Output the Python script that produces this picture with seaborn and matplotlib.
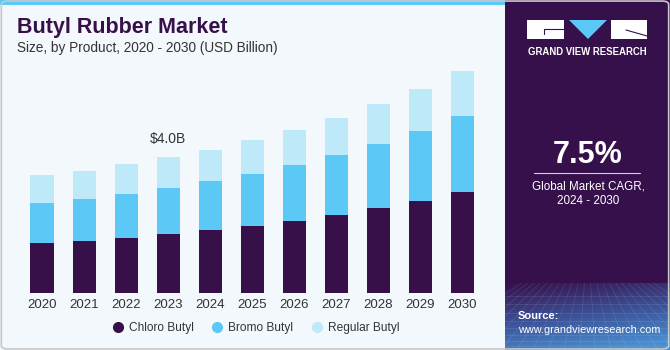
import numpy as np
import pandas as pd
import matplotlib.pyplot as plt
import seaborn as sns
from matplotlib.patches import Rectangle, Polygon, FancyBboxPatch
from matplotlib.lines import Line2D
from matplotlib.colors import LinearSegmentedColormap

# values (USD billion)
years = [str(y) for y in range(2020, 2031)]
chloro = [1.47, 1.53, 1.62, 1.74, 1.85, 1.98, 2.13, 2.31, 2.50, 2.72, 2.99]
bromo = [1.19, 1.24, 1.31, 1.37, 1.45, 1.53, 1.64, 1.76, 1.90, 2.06, 2.23]
regular = [0.81, 0.83, 0.86, 0.90, 0.93, 0.99, 1.03, 1.09, 1.16, 1.24, 1.33]
products = ['Chloro Butyl', 'Bromo Butyl', 'Regular Butyl']
colors = ['#37104a', '#5bc8f5', '#bde9f9']
label_year = '2023'
label_text = '$4.0B'
cagr = '7.5%'

df = pd.DataFrame({'year': years, 'Chloro Butyl': chloro,
                   'Bromo Butyl': bromo, 'Regular Butyl': regular})
df['s1'] = df['Chloro Butyl']
df['s2'] = df['s1'] + df['Bromo Butyl']
df['s3'] = df['s2'] + df['Regular Butyl']

sns.set_theme(style='white')
plt.rcParams['font.family'] = ['Liberation Sans', 'DejaVu Sans']

W, H = 670, 350
fig = plt.figure(figsize=(6.7, 3.5), dpi=100)
fig.patch.set_facecolor('white')

def fx(px):
    return px / W

def fy(py):
    return 1 - py / H

# panels (behind the axes)
fig.patches.append(Rectangle((0, 0), fx(505), 1, transform=fig.transFigure,
                             facecolor='#f3f8fc', edgecolor='none', zorder=-5))
fig.patches.append(Rectangle((0, fy(5)), fx(505), 5 / H, transform=fig.transFigure,
                             facecolor='#5bc8f5', edgecolor='none', zorder=-5))
fig.patches.append(Rectangle((fx(505), 0), fx(165), 1, transform=fig.transFigure,
                             facecolor='#36104a', edgecolor='none', zorder=-5))

# bottom-right gradient strip
gax = fig.add_axes([fx(505), 0, fx(165), 67 / H])
cmap = LinearSegmentedColormap.from_list('g', ['#36104a', '#3b4f95', '#4a8fd0'])
gy = np.linspace(0, 1, 100)[:, None]
gx = np.linspace(0, 1, 160)[None, :]
grad = np.clip(gy * 0.85 + gx * 0.25, 0, 1)
gax.imshow(grad, cmap=cmap, aspect='auto', extent=[0, 1, 0, 1], origin='upper')
for k in np.linspace(-0.5, 1.5, 22):
    gax.plot([k, 0.5 + (k - 0.5) * 0.4], [0, 1], color='white', alpha=0.12, lw=0.5)
for k in np.linspace(0, 0.85, 9):
    gax.plot([0, 1], [k ** 1.3, k ** 1.3], color='white', alpha=0.12, lw=0.5)
gax.set_xlim(0, 1)
gax.set_ylim(0, 1)
gax.axis('off')

# main chart
ax = fig.add_axes([fx(16.8), 57 / H, fx(470.9), 233 / H])
ax.set_facecolor('none')
for col, color in zip(['s3', 's2', 's1'], colors[::-1]):
    sns.barplot(data=df, x='year', y=col, color=color, saturation=1,
                width=0.55, errorbar=None, ax=ax, edgecolor='none')
ax.set_xlim(-0.6, 10.6)
ax.set_ylim(0, 6.87)
ax.set_xlabel('')
ax.set_ylabel('')
ax.set_yticks([])
sns.despine(ax=ax, left=True, bottom=True)
ax.tick_params(axis='x', length=0, pad=4, labelsize=9.5, labelcolor='#333333')

i = years.index(label_year)
ax.annotate(label_text, (i, df['s3'][i]), xytext=(0, 8), textcoords='offset points',
            ha='center', va='bottom', fontsize=10, color='#333333')

# titles
fig.text(fx(17), fy(28), 'Butyl Rubber Market', fontsize=15.5, fontweight='bold',
         color='#37104a', va='center', ha='left')
fig.text(fx(17), fy(48), 'Size, by Product, 2020 - 2030 (USD Billion)', fontsize=9.8,
         color='#333333', va='center', ha='left')

# legend
handles = [Line2D([], [], marker='o', ls='none', markersize=7, color=c) for c in colors]
fig.legend(handles, products, loc='center', bbox_to_anchor=(fx(255), fy(328)), ncol=3,
           frameon=False, fontsize=8.6, handletextpad=0.3, columnspacing=1.4,
           handlelength=1.2, labelcolor='#333333')

# logo
fig.patches.append(Rectangle((fx(527), fy(39)), fx(37), 19 / H, transform=fig.transFigure,
                             facecolor='white', edgecolor='none'))
fig.patches.append(Rectangle((fx(611), fy(39)), fx(36), 19 / H, transform=fig.transFigure,
                             facecolor='white', edgecolor='none'))
fig.patches.append(Polygon([(fx(569), fy(20)), (fx(607), fy(20)), (fx(588), fy(39))],
                           closed=True, transform=fig.transFigure,
                           facecolor='#5bc8f5', edgecolor='none'))
fig.lines.append(Line2D([fx(544), fx(564)], [fy(29), fy(29)], transform=fig.transFigure,
                        color='#36104a', lw=0.8))
fig.lines.append(Line2D([fx(544), fx(544)], [fy(29), fy(34)], transform=fig.transFigure,
                        color='#36104a', lw=0.8))
fig.lines.append(Line2D([fx(626), fx(647)], [fy(30), fy(36)], transform=fig.transFigure,
                        color='#36104a', lw=0.8))
fig.text(fx(587), fy(52), 'GRAND VIEW RESEARCH', fontsize=6.9, fontweight='bold',
         color='white', ha='center', va='center')

# CAGR block
fig.text(fx(588), fy(155), cagr, fontsize=22, fontweight='bold', color='white',
         ha='center', va='center')
fig.lines.append(Line2D([fx(534), fx(640)], [fy(173), fy(173)], transform=fig.transFigure,
                        color='#d8d0e0', lw=0.8))
fig.text(fx(588), fy(186), 'Global Market CAGR,', fontsize=8.4, color='white',
         ha='center', va='center')
fig.text(fx(588), fy(201), '2024 - 2030', fontsize=8.4, color='white',
         ha='center', va='center')

# source
fig.text(fx(518), fy(316), 'Source:', fontsize=8, fontweight='bold', color='white',
         ha='left', va='center')
fig.text(fx(518), fy(330), 'www.grandviewresearch.com', fontsize=7.8, color='white',
         ha='left', va='center')

# outer border
fig.patches.append(FancyBboxPatch((0.002, 0.003), 0.996, 0.994,
                                  boxstyle='round,pad=0,rounding_size=0.01',
                                  transform=fig.transFigure, fill=False,
                                  edgecolor='#c8c8c8', lw=1.2))

fig.savefig('out.png', dpi=100)
plt.close()
